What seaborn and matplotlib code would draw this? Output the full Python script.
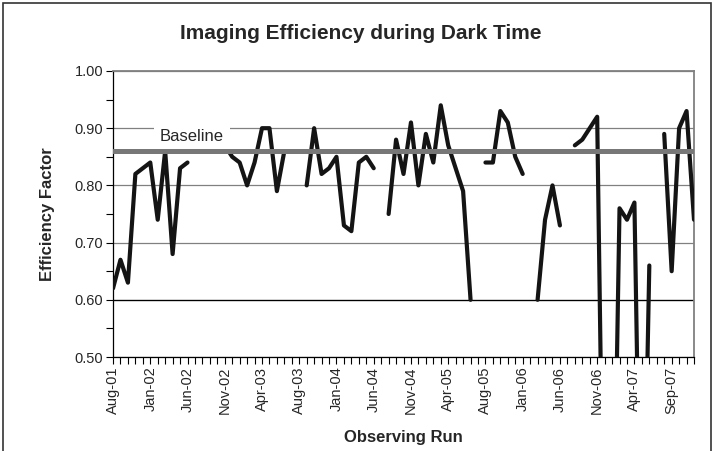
import numpy as np
import pandas as pd
import matplotlib
matplotlib.use('Agg')
import matplotlib.pyplot as plt
from matplotlib.patches import Rectangle
import seaborn as sns

# ----------------- data -----------------------------
# one value per observing run (dark-time), nan = no data for that run
efficiency = [0.62, 0.67, 0.63, 0.82, 0.83, 0.84, 0.74, 0.86, 0.68, 0.83,
              0.84, np.nan, np.nan, np.nan, np.nan, 0.87, 0.85, 0.84, 0.80, 0.84,
              0.90, 0.90, 0.79, 0.86, np.nan, np.nan, 0.80, 0.90, 0.82, 0.83,
              0.85, 0.73, 0.72, 0.84, 0.85, 0.83, np.nan, 0.75, 0.88, 0.82,
              0.91, 0.80, 0.89, 0.84, 0.94, 0.87, 0.83, 0.79, 0.60, np.nan,
              0.84, 0.84, 0.93, 0.91, 0.85, 0.82, np.nan, 0.60, 0.74, 0.80,
              0.73, np.nan, 0.87, 0.88, 0.90, 0.92, 0.00, 0.00, 0.76, 0.74,
              0.77, 0.00, 0.66, np.nan, 0.89, 0.65, 0.90, 0.93, 0.74]
runs = np.arange(len(efficiency))
tick_labels = ['Aug-01', 'Jan-02', 'Jun-02', 'Nov-02', 'Apr-03', 'Aug-03',
               'Jan-04', 'Jun-04', 'Nov-04', 'Apr-05', 'Aug-05', 'Jan-06',
               'Jun-06', 'Nov-06', 'Apr-07', 'Sep-07']
baseline = 0.86

# ----------------- style -----------------------------
sns.set_style('ticks')
plt.rcParams['font.family'] = ['Liberation Sans', 'DejaVu Sans']

df = pd.DataFrame({'run': runs, 'eff': efficiency})
# split into runs of consecutive values so gaps stay gaps
df['segment'] = df['eff'].isna().cumsum()
df = df.dropna()

fig, ax = plt.subplots(figsize=(7.14, 4.51), dpi=100)
fig.subplots_adjust(left=0.1583, right=0.972, bottom=0.2084, top=0.8426)

sns.lineplot(data=df, x='run', y='eff', units='segment', estimator=None,
             color='#141414', linewidth=3.0, ax=ax, zorder=3)

# baseline and its label
ax.axhline(baseline, color='#777777', linewidth=3.6, zorder=5)
ax.text(10.6, 0.878, 'Baseline', ha='center', va='baseline', fontsize=12,
        bbox=dict(boxstyle='square,pad=0.35', fc='white', ec='none'), zorder=4)

# axes
ax.set_xlim(0, len(runs) - 1)
ax.set_ylim(0.5, 1.0)
ax.set_xticks(runs, minor=True)
ax.set_xticks(runs[::5], tick_labels, rotation=90)
ax.set_yticks(np.arange(0.5, 1.01, 0.1))
ax.set_yticks(np.arange(0.55, 1.0, 0.1), minor=True)
ax.yaxis.set_major_formatter(matplotlib.ticker.FormatStrFormatter('%.2f'))
ax.tick_params(axis='both', which='both', direction='out', length=5,
               width=0.8, color='black', labelsize=10.5, pad=2)

ax.set_axisbelow(True)
ax.yaxis.grid(True, color='#808080', linewidth=0.9)
ax.axhline(0.6, color='black', linewidth=0.9, zorder=1.5)

for side in ['left', 'bottom']:
    ax.spines[side].set_color('black')
    ax.spines[side].set_linewidth(0.9)
for side in ['top', 'right']:
    ax.spines[side].set_color('#808080')
    ax.spines[side].set_linewidth(1.3)

# labels and title
ax.set_xlabel('Observing Run', fontsize=12, fontweight='bold')
ax.xaxis.set_label_coords(0.5, -0.255)
ax.set_ylabel('Efficiency Factor', fontsize=12, fontweight='bold')
ax.yaxis.set_label_coords(-0.1, 0.5)
fig.text(0.505, 0.925, 'Imaging Efficiency during Dark Time', ha='center',
         va='center', fontsize=15, fontweight='bold')

# chart area border
fig.patches.append(Rectangle((3 / 714, -0.05), 708 / 714, 1.05 - 3 / 451,
                             transform=fig.transFigure, fill=False,
                             edgecolor='#333333', linewidth=1.2))

plt.savefig('out.png', dpi=100)
